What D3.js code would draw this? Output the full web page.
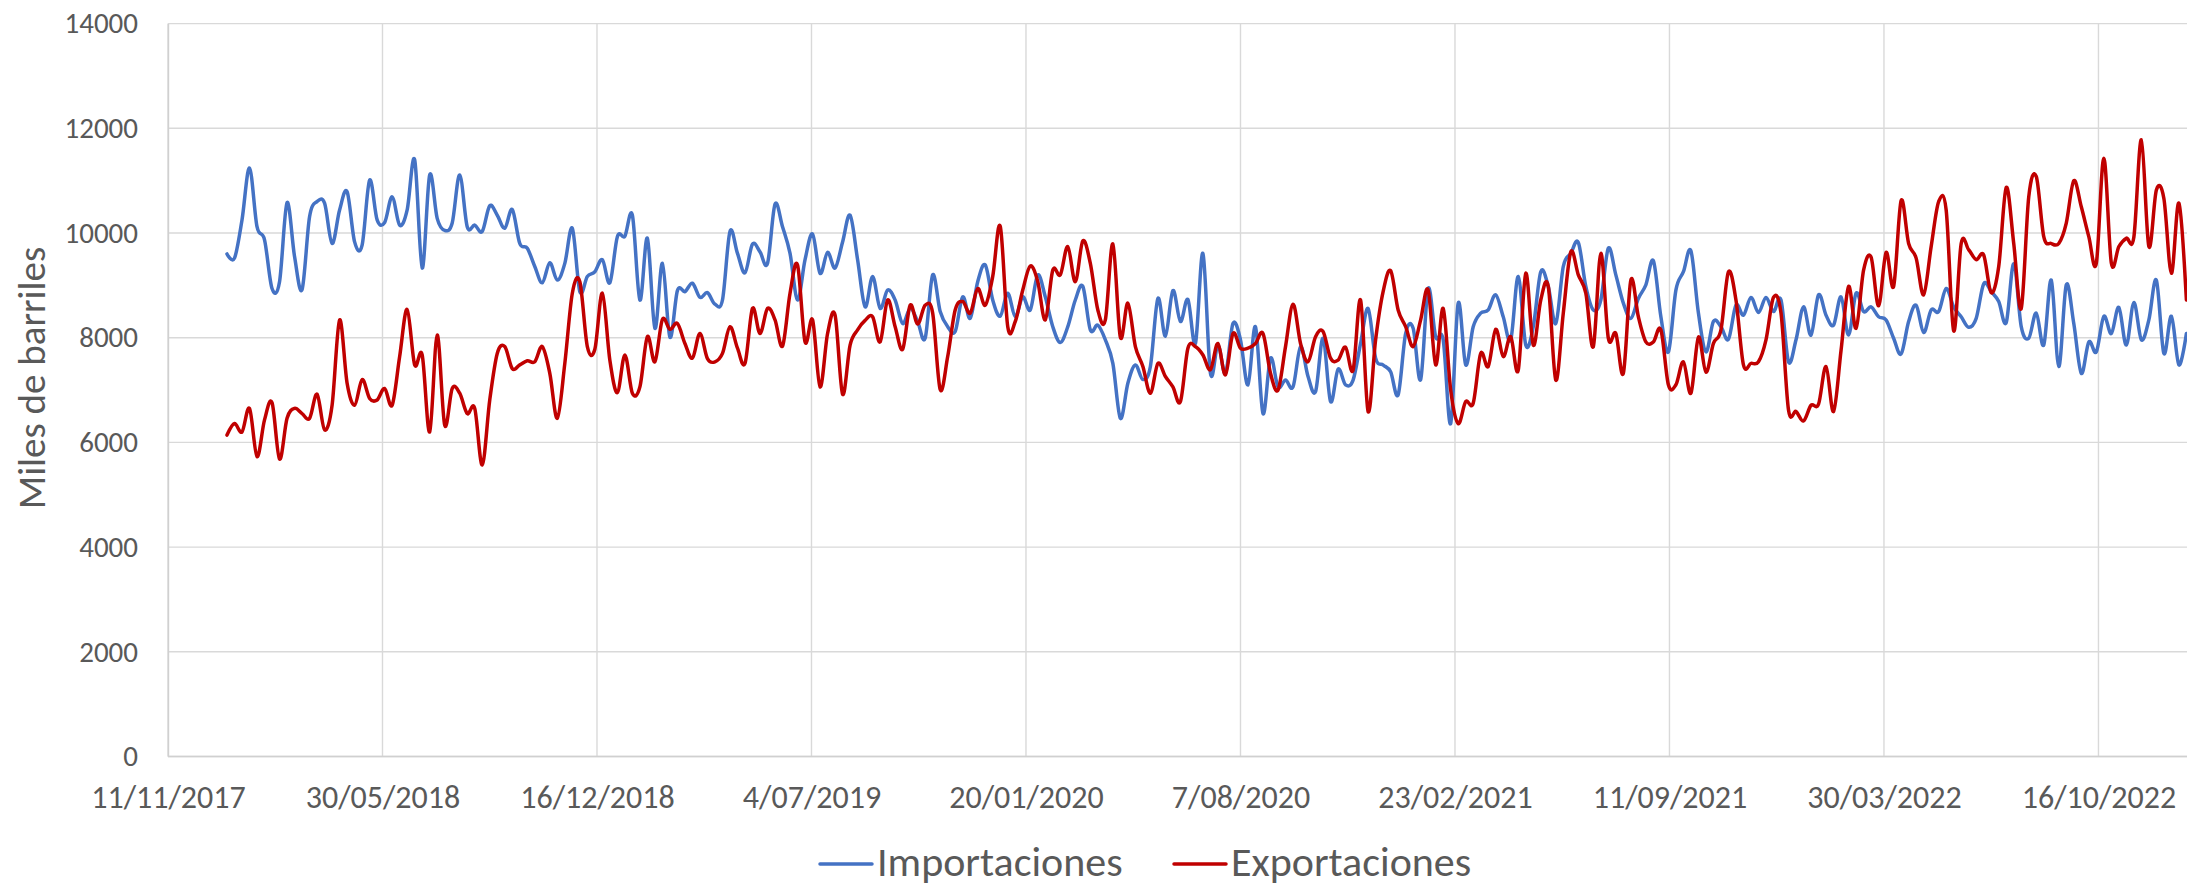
<!DOCTYPE html>
<html>
<head>
<meta charset="utf-8">
<script src="https://d3js.org/d3.v7.min.js"></script>
<style>
  body { margin: 0; background: #fff; }
  text { font-family: Calibri, Carlito, Lato, sans-serif; fill: #595959; }
</style>
</head>
<body>
<script>
// weekly series, first week 5/01/2018
var firstWeek = new Date(2018, 0, 5);

var importaciones = [
  9600, 9520, 10250, 11240, 10120, 9870, 8940, 9070, 10580, 9550,
  8920, 10310, 10600, 10570, 9800, 10440, 10790, 9830, 9770, 11010,
  10250, 10200, 10690, 10150, 10440, 11400, 9330, 11110, 10280, 10050,
  10190, 11110, 10120, 10150, 10030, 10520, 10340, 10090, 10450, 9800,
  9710, 9360, 9050, 9430, 9100, 9420, 10090, 8880, 9170, 9260,
  9490, 9050, 9930, 9940, 10340, 8720, 9900, 8180, 9420, 8010,
  8900, 8880, 9040, 8770, 8860, 8640, 8720, 10030, 9610, 9240,
  9790, 9640, 9420, 10550, 10120, 9610, 8720, 9490, 9980, 9230,
  9630, 9330, 9830, 10340, 9490, 8590, 9170, 8560, 8910, 8720,
  8270, 8560, 8310, 7990, 9200, 8500, 8210, 8120, 8780, 8370,
  9070, 9390, 8720, 8410, 8850, 8400, 8780, 8530, 9200, 8780,
  8210, 7910, 8210, 8720, 8980, 8150, 8240, 7960, 7510, 6460,
  7130, 7480, 7200, 7450, 8750, 8030, 8900, 8310, 8730, 7890,
  9610, 7320, 7860, 7320, 8270, 7960, 7100, 8210, 6550, 7610,
  7060, 7190, 7060, 7830, 7260, 6970, 7990, 6780, 7400, 7100,
  7190, 7890, 8560, 7610, 7480, 7350, 6910, 8080, 8180, 7200,
  8940, 8020, 7960, 6360, 8660, 7480, 8210, 8470, 8530, 8820,
  8400, 7960, 9170, 7860, 8210, 9260, 8980, 8270, 9360, 9610,
  9820, 8980, 8530, 8720, 9710, 9200, 8660, 8370, 8750, 9010,
  9470, 8400, 7730, 8910, 9260, 9660, 8470, 7730, 8310, 8210,
  7970, 8620, 8430, 8770, 8480, 8770, 8500, 8720, 7540, 7960,
  8590, 8050, 8820, 8430, 8240, 8780, 8050, 8850, 8500, 8590,
  8400, 8340, 7990, 7690, 8310, 8620, 8100, 8530, 8500, 8940,
  8590, 8400, 8200, 8370, 9030, 8880, 8690, 8290, 9410, 8210,
  7990, 8470, 7860, 9100, 7450, 9010, 8270, 7320, 7920, 7730,
  8410, 8080, 8580, 7860, 8670, 7960, 8340, 9100, 7700, 8410,
  7480, 8080
];

var exportaciones = [
  6140, 6360, 6200, 6650, 5730, 6430, 6760, 5680, 6460, 6650,
  6550, 6460, 6920, 6240, 6710, 8340, 7130, 6710, 7200, 6840,
  6810, 7030, 6710, 7640, 8540, 7480, 7670, 6200, 8050, 6330,
  7030, 6940, 6550, 6650, 5570, 6810, 7700, 7830, 7410, 7480,
  7560, 7540, 7830, 7320, 6460, 7510, 8850, 9070, 7830, 7780,
  8850, 7570, 6950, 7670, 6940, 7060, 8020, 7540, 8350, 8160,
  8270, 7890, 7610, 8080, 7600, 7540, 7700, 8210, 7800, 7510,
  8560, 8080, 8560, 8340, 7840, 8850, 9390, 7920, 8340, 7060,
  8080, 8430, 6920, 7860, 8150, 8330, 8400, 7920, 8720, 8210,
  7780, 8620, 8260, 8620, 8470, 7010, 7640, 8530, 8690, 8470,
  8940, 8620, 9170, 10130, 8210, 8310, 8910, 9370, 9070, 8340,
  9290, 9200, 9740, 9070, 9850, 9420, 8530, 8340, 9790, 8010,
  8660, 7830, 7450, 6940, 7510, 7260, 7060, 6780, 7800, 7830,
  7670, 7390, 7890, 7290, 8080, 7800, 7800, 7890, 8080, 7320,
  7000, 7830, 8640, 7890, 7540, 8020, 8120, 7610, 7570, 7820,
  7380, 8720, 6590, 7960, 8880, 9280, 8530, 8210, 7830, 8340,
  8910, 7480, 8560, 7000, 6360, 6780, 6750, 7700, 7450, 8160,
  7640, 8020, 7380, 9230, 7860, 8720, 8980, 7190, 8470, 9640,
  9200, 8850, 7830, 9610, 7990, 8080, 7320, 9100, 8400, 7920,
  7920, 8150, 7100, 7100, 7540, 6940, 8010, 7340, 7890, 8150,
  9260, 8720, 7480, 7510, 7540, 7960, 8770, 8470, 6620, 6590,
  6410, 6710, 6730, 7450, 6590, 7760, 8980, 8180, 9290, 9540,
  8610, 9630, 8980, 10620, 9800, 9520, 8820, 9740, 10600, 10440,
  8130, 9800, 9680, 9490, 9580, 8860, 9360, 10870, 9800, 8560,
  10690, 11080, 9930, 9800, 9800, 10190, 11000, 10500, 9930, 9420,
  11430, 9430, 9740, 9900, 9920, 11780, 9740, 10820, 10660, 9230,
  10570, 8720
];

var series = [
  {name: "Importaciones", values: importaciones, color: "#4472C4"},
  {name: "Exportaciones", values: exportaciones, color: "#C00000"}
];

var yTicks = [0, 2000, 4000, 6000, 8000, 10000, 12000, 14000];

var width = 2187, height = 886;
var axisStart = new Date(2017, 10, 11),
    axisEnd = new Date(2023, 0, 6);
var tickDays = d3.range(0, 1801, 200);

var svg = d3.select("body").append("svg")
    .attr("width", width)
    .attr("height", height);

var xScale = d3.scaleTime()
    .domain([axisStart, axisEnd])
    .range([168, 2186.4]);
var yScale = d3.scaleLinear()
    .domain([0, 14000])
    .range([756.5, 23.6]);

var xTicks = tickDays.map(function(d) { return d3.timeDay.offset(axisStart, d); });
var fmt = d3.timeFormat("%-d/%m/%Y");

// grid
svg.append("g")
    .selectAll("line")
    .data(yTicks)
  .enter().append("line")
    .attr("x1", 168).attr("x2", width)
    .attr("y1", function(d) { return yScale(d); })
    .attr("y2", function(d) { return yScale(d); })
    .style("stroke", "#d9d9d9")
    .style("stroke-width", 1.4);

svg.append("g")
    .selectAll("line")
    .data(xTicks)
  .enter().append("line")
    .attr("x1", function(d) { return xScale(d); })
    .attr("x2", function(d) { return xScale(d); })
    .attr("y1", yScale(14000)).attr("y2", yScale(0))
    .style("stroke", "#d9d9d9")
    .style("stroke-width", 1.4);

// axes (labels only, Excel style)
var yAxis = d3.axisLeft(yScale).tickValues(yTicks).tickFormat(d3.format("d")).tickSize(0).tickPadding(30);
svg.append("g")
    .attr("transform", "translate(168,0)")
    .call(yAxis)
    .call(function(g) { g.select(".domain").style("stroke", "#d0d0d0").style("stroke-width", 1.4); })
    .selectAll("text")
      .style("font-size", "29px")
      .style("fill", "#595959");

var xAxis = d3.axisBottom(xScale).tickValues(xTicks).tickFormat(fmt).tickSize(0).tickPadding(29);
svg.append("g")
    .attr("transform", "translate(0," + yScale(0) + ")")
    .call(xAxis)
    .call(function(g) { g.select(".domain").remove(); })
    .selectAll("text")
      .style("font-size", "32px")
      .style("fill", "#595959");

svg.append("line")
    .attr("x1", 168).attr("x2", width)
    .attr("y1", yScale(0)).attr("y2", yScale(0))
    .style("stroke", "#d0d0d0")
    .style("stroke-width", 1.4);

svg.append("text")
    .attr("transform", "rotate(-90)")
    .attr("x", -378)
    .attr("y", 45)
    .style("font-size", "39px")
    .style("text-anchor", "middle")
    .text("Miles de barriles");

// lines
var line = d3.line()
    .x(function(d, i) { return xScale(d3.timeDay.offset(firstWeek, 7 * i)); })
    .y(function(d) { return yScale(d); })
    .curve(d3.curveCardinal.tension(0));

svg.selectAll(".serie")
    .data(series)
  .enter().append("path")
    .attr("class", "serie")
    .attr("d", function(s) { return line(s.values); })
    .style("fill", "none")
    .style("stroke", function(s) { return s.color; })
    .style("stroke-width", 3.5)
    .style("stroke-linejoin", "round")
    .style("stroke-linecap", "round");

// legend
var legendX = [820, 1174];
var legend = svg.selectAll(".legend")
    .data(series)
  .enter().append("g")
    .attr("class", "legend")
    .attr("transform", function(d, i) { return "translate(" + legendX[i] + ",864)"; });
legend.append("line")
    .attr("x1", 0).attr("x2", 52)
    .style("stroke", function(d) { return d.color; })
    .style("stroke-width", 3.5)
    .style("stroke-linecap", "round");
legend.append("text")
    .attr("x", 57)
    .attr("y", 12)
    .style("font-size", "42px")
    .text(function(d) { return d.name; });
</script>
</body>
</html>
